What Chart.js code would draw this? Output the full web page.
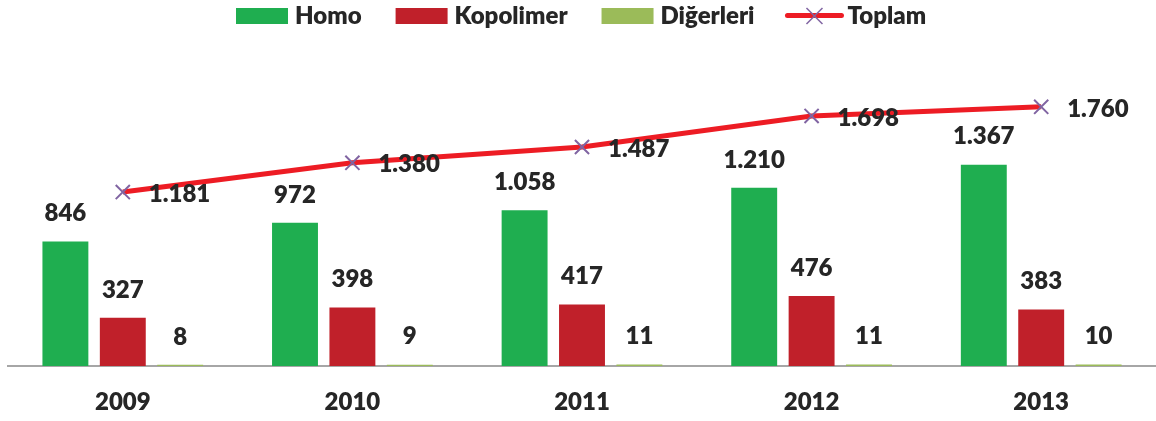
<!DOCTYPE html>
<html>
<head>
<meta charset="utf-8">
<script src="https://cdn.jsdelivr.net/npm/chart.js@4/dist/chart.umd.min.js"></script>
<style>
  html, body { margin: 0; padding: 0; background: #ffffff; overflow: hidden; }
  #c { display: block; width: 1156px; height: 421px; }
</style>
</head>
<body>
<canvas id="c" width="1156" height="421"></canvas>
<script>
const categories = ['2009', '2010', '2011', '2012', '2013'];
const homo = [846, 972, 1058, 1210, 1367];
const kopolimer = [327, 398, 417, 476, 383];
const digerleri = [8, 9, 11, 11, 10];
const toplam = [1181, 1380, 1487, 1698, 1760];

const FONT = 'Lato, "Open Sans", "Liberation Sans", sans-serif';
const WEIGHT = '800';
const TEXT = '#262626';

function fmt(v) {
  return String(v).replace(/\B(?=(\d{3})+(?!\d))/g, '.');
}

const labelPlugin = {
  id: 'valueLabels',
  afterDatasetsDraw(chart) {
    const ctx = chart.ctx;
    ctx.save();
    ctx.font = WEIGHT + ' 24px ' + FONT;
    ctx.fillStyle = TEXT;
    ctx.textBaseline = 'middle';
    chart.data.datasets.forEach((ds, di) => {
      const meta = chart.getDatasetMeta(di);
      meta.data.forEach((el, i) => {
        const v = ds.data[i];
        if (ds.type === 'line') {
          ctx.textAlign = 'left';
          ctx.fillText(fmt(v), el.x + 26, el.y + 2);
        } else {
          ctx.textAlign = 'center';
          ctx.fillText(fmt(v), el.x, el.y - 28);
        }
      });
    });
    ctx.restore();
  },
  afterDraw(chart) {
    // legend
    const ctx = chart.ctx;
    ctx.save();
    ctx.font = WEIGHT + ' 24px ' + FONT;
    ctx.textBaseline = 'middle';
    ctx.textAlign = 'left';
    let x = 236;
    const cy = 16;
    const order = [1, 2, 3, 0];
    order.forEach(di => {
      const ds = chart.data.datasets[di];
      if (ds.type === 'line') {
        ctx.strokeStyle = ds.borderColor;
        ctx.lineWidth = 5;
        ctx.lineCap = 'round';
        ctx.beginPath();
        ctx.moveTo(x - 1, cy - 0.5);
        ctx.lineTo(x + 53, cy - 0.5);
        ctx.stroke();
        ctx.strokeStyle = ds.pointBorderColor;
        ctx.lineWidth = 1.5;
        ctx.lineCap = 'butt';
        const r = 8;
        const mx = x + 26;
        ctx.beginPath();
        ctx.moveTo(mx - r, cy - r);
        ctx.lineTo(mx + r, cy + r);
        ctx.moveTo(mx - r, cy + r);
        ctx.lineTo(mx + r, cy - r);
        ctx.stroke();
      } else {
        ctx.fillStyle = ds.backgroundColor;
        ctx.fillRect(x, cy - 8, 52, 16);
      }
      x += 52 + 7;
      ctx.fillStyle = TEXT;
      ctx.fillText(ds.label, x, cy);
      x += ctx.measureText(ds.label).width + 34;
    });
    ctx.restore();
  }
};

new Chart(document.getElementById('c'), {
  data: {
    labels: categories,
    datasets: [
      {
        type: 'line',
        label: 'Toplam',
        data: toplam,
        borderColor: '#ed1c24',
        borderWidth: 5,
        pointStyle: 'crossRot',
        pointRadius: 10,
        pointBorderColor: '#8064a2',
        pointBorderWidth: 2,
        pointBackgroundColor: '#8064a2',
        tension: 0,
        order: 0
      },
      { type: 'bar', label: 'Homo', data: homo, backgroundColor: '#1fae50', order: 1 },
      { type: 'bar', label: 'Kopolimer', data: kopolimer, backgroundColor: '#c0202a', order: 2 },
      { type: 'bar', label: 'Diğerleri', data: digerleri, backgroundColor: '#9bbb59', order: 3 }
    ]
  },
  options: {
    responsive: false,
    maintainAspectRatio: false,
    animation: false,
    devicePixelRatio: 1,
    layout: { autoPadding: false, padding: { left: 8, right: -2, top: 42, bottom: 0 } },
    datasets: { bar: { barPercentage: 0.8, categoryPercentage: 0.75 } },
    plugins: { legend: { display: false }, tooltip: { enabled: false } },
    scales: {
      x: {
        offset: true,
        grid: { display: false, drawTicks: false },
        border: { display: true, color: '#a6a6a6', width: 2 },
        ticks: { color: TEXT, font: { family: FONT, size: 24, weight: WEIGHT }, padding: 22 },
        afterFit(scale) { scale.height = 55; scale.paddingLeft = 0; scale.paddingRight = 0; }
      },
      y: { display: false, min: 0, max: 2200 }
    }
  },
  plugins: [labelPlugin]
});
</script>
</body>
</html>
